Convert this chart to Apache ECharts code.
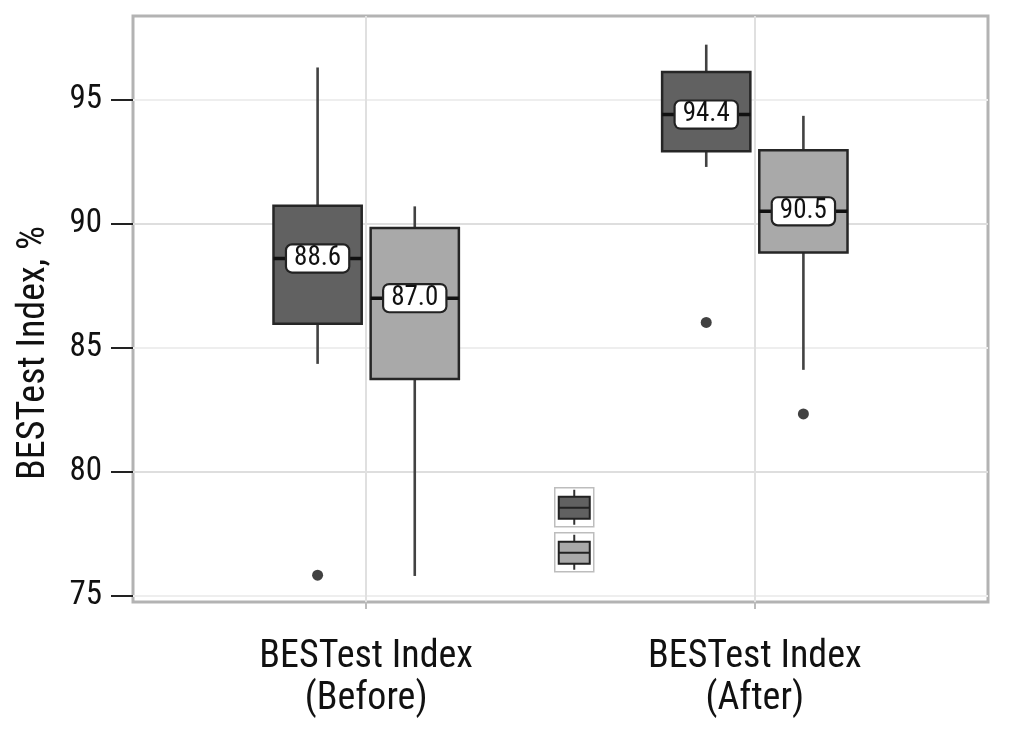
<!DOCTYPE html>
<html><head><meta charset="utf-8">
<script src="https://cdn.jsdelivr.net/npm/echarts@6/dist/echarts.min.js"></script>
<style>html,body{margin:0;padding:0;background:#fff}#c{width:1010px;height:729px}</style>
</head><body><div id="c"></div>
<script>
// ---- data ----
const categories = ['BESTest Index\n(Before)', 'BESTest Index\n(After)'];
const yTicks = [75, 80, 85, 90, 95];
// [lower whisker, Q1, median, Q3, upper whisker] per category
const darkBoxes = [[84.35, 85.97, 88.6, 90.73, 96.3], [92.29, 92.92, 94.4, 96.12, 97.22]];
const lightBoxes = [[75.8, 83.74, 87.0, 89.83, 90.7], [84.11, 88.84, 90.5, 92.96, 94.35]];
const darkOutliers = [[75.83], [86.02]];
const lightOutliers = [[], [82.33]];

// ---- styling ----
const FONT = '"Roboto Condensed", "DejaVu Sans Condensed", sans-serif';
const DARK = '#616161', LIGHT = '#a9a9a9';
const OFFSET = 0.125, BOX_W = 0.227;

function boxData(boxes) { return boxes.map((b, i) => [i + 1].concat(b)); }
function outlierData(outs, off) {
  const d = [];
  outs.forEach((arr, i) => arr.forEach(v => d.push([i + 1 + off, v])));
  return d;
}
function makeRender(offset, fill) {
  return function (params, api) {
    const x = api.value(0) + offset;
    const pLow = api.coord([x, api.value(1)]);
    const pQ1 = api.coord([x, api.value(2)]);
    const pMed = api.coord([x, api.value(3)]);
    const pQ3 = api.coord([x, api.value(4)]);
    const pHigh = api.coord([x, api.value(5)]);
    const w = api.size([BOX_W, 0])[0];
    const cx = pMed[0];
    return {
      type: 'group', children: [
        { type: 'line', shape: { x1: cx, y1: pHigh[1], x2: cx, y2: pQ3[1] }, style: { stroke: '#424242', lineWidth: 2.6 } },
        { type: 'line', shape: { x1: cx, y1: pQ1[1], x2: cx, y2: pLow[1] }, style: { stroke: '#424242', lineWidth: 2.6 } },
        { type: 'rect', shape: { x: cx - w / 2, y: pQ3[1], width: w, height: pQ1[1] - pQ3[1] }, style: { fill: fill, stroke: '#262626', lineWidth: 2.5 } },
        { type: 'line', shape: { x1: cx - w / 2, y1: pMed[1], x2: cx + w / 2, y2: pMed[1] }, style: { stroke: '#111', lineWidth: 3.5 } },
        { type: 'text', x: cx, y: pMed[1], style: {
            text: api.value(3).toFixed(1), align: 'center', verticalAlign: 'middle',
            fontSize: 27, fontFamily: FONT, fill: '#111', lineHeight: 24,
            backgroundColor: '#fff', borderColor: '#222', borderWidth: 2.2, borderRadius: 5, padding: [1, 7, 1, 7] } }
      ]
    };
  };
}
function legendIcon(top, fill) {
  return {
    type: 'group', left: 554, top: top, children: [
      { type: 'rect', shape: { x: 0, y: 0, width: 39, height: 39 }, style: { fill: '#fff', stroke: '#bdbdbd', lineWidth: 1.5 } },
      { type: 'line', shape: { x1: 19.5, y1: 2, x2: 19.5, y2: 37 }, style: { stroke: '#333', lineWidth: 2 } },
      { type: 'rect', shape: { x: 4, y: 9, width: 31, height: 22 }, style: { fill: fill, stroke: '#222', lineWidth: 2 } },
      { type: 'line', shape: { x1: 4, y1: 20, x2: 35, y2: 20 }, style: { stroke: '#222', lineWidth: 2 } }
    ]
  };
}

const chart = echarts.init(document.getElementById('c'), null, { renderer: 'canvas' });
chart.setOption({
  animation: false,
  backgroundColor: '#fff',
  textStyle: { fontFamily: FONT },
  grid: { left: 133, right: 22, top: 16, bottom: 127, show: true, borderColor: '#b3b3b3', borderWidth: 3, backgroundColor: '#fff' },
  xAxis: {
    type: 'value', min: 0.4, max: 2.6, minInterval: 1, maxInterval: 1,
    axisLine: { show: false },
    axisTick: { show: true, customValues: [1, 2], length: 7, lineStyle: { color: '#bbb', width: 2 } },
    axisLabel: { customValues: [1, 2], formatter: v => categories[Math.round(v) - 1] || '',
      fontSize: 38, lineHeight: 42, margin: 34, color: '#111', fontFamily: FONT },
    splitLine: { show: true, lineStyle: { color: '#e0e0e0', width: 2 } }
  },
  yAxis: {
    type: 'value', min: 74.75, max: 98.375, minInterval: 2.5, maxInterval: 2.5, splitNumber: 9,
    axisLine: { show: false },
    axisTick: { show: true, customValues: yTicks, length: 22, lineStyle: { color: '#222', width: 2 } },
    axisLabel: { customValues: yTicks, margin: 31, fontSize: 33, color: '#111', fontFamily: FONT },
    splitLine: { show: true, lineStyle: { color: ['#eeeeee', '#dedede'], width: 2 } },
    name: 'BESTest Index, %', nameLocation: 'middle', nameGap: 80,
    nameTextStyle: { fontSize: 38, color: '#111', fontFamily: FONT, padding: [0, 88, 0, 0] }
  },
  series: [
    { type: 'custom', name: 'dark', renderItem: makeRender(-OFFSET, DARK), data: boxData(darkBoxes), encode: { x: 0, y: [1, 2, 3, 4, 5] }, z: 3 },
    { type: 'custom', name: 'light', renderItem: makeRender(OFFSET, LIGHT), data: boxData(lightBoxes), encode: { x: 0, y: [1, 2, 3, 4, 5] }, z: 3 },
    { type: 'scatter', data: outlierData(darkOutliers, -OFFSET), symbolSize: 11, itemStyle: { color: '#111' }, z: 4 },
    { type: 'scatter', data: outlierData(lightOutliers, OFFSET), symbolSize: 11, itemStyle: { color: '#111' }, z: 4 }
  ],
  graphic: [legendIcon(487, DARK), legendIcon(532, LIGHT)]
});
</script>
</body></html>
